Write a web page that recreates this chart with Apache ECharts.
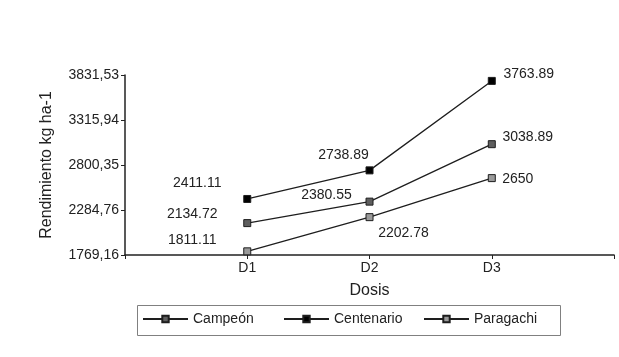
<!DOCTYPE html>
<html>
<head>
<meta charset="utf-8">
<script src="https://cdn.jsdelivr.net/npm/echarts@6/dist/echarts.min.js"></script>
<style>
html,body{margin:0;padding:0;background:#fff;}
#chart{width:619px;height:357px;}
</style>
</head>
<body>
<div id="chart"></div>
<script>
const categories = ['D1', 'D2', 'D3'];
const campeon = [2134.72, 2380.55, 3038.89];
const centenario = [2411.11, 2738.89, 3763.89];
const paragachi = [1811.11, 2202.78, 2650];
const seriesNames = ['Campeón', 'Centenario', 'Paragachi'];
const yTickLabels = ['1769,16', '2284,76', '2800,35', '3315,94', '3831,53'];
const yMin = 1769.16;
const yMax = 3831.53;

// label offsets (style only)
const offsets = {
  'Campeón': [[-55, -9], [-43, -6], [36, -7]],
  'Centenario': [[-50, -16], [-26, -15], [37, -7]],
  'Paragachi': [[-55, -11], [34, 16], [26, 1]]
};
const fills = { 'Campeón': '#5e5e5e', 'Centenario': '#000000', 'Paragachi': '#9a9a9a' };
const legendLefts = [142, 283, 423];

const font = "'Liberation Sans', Arial, sans-serif";
function mk(name, vals) {
  return {
    name: name,
    type: 'line',
    symbol: 'rect',
    symbolSize: 7,
    lineStyle: { color: '#1e1e1e', width: 1.3 },
    itemStyle: { color: fills[name], borderColor: '#1e1e1e', borderWidth: 1 },
    label: { show: true, position: 'inside', color: '#222', fontSize: 14, fontFamily: font },
    emphasis: { disabled: true },
    animation: false,
    data: categories.map((c, i) => ({
      value: [c, vals[i]],
      label: { offset: offsets[name][i], formatter: String(vals[i]) }
    }))
  };
}

const chart = echarts.init(document.getElementById('chart'), null, { renderer: 'canvas' });
chart.setOption({
  backgroundColor: '#fff',
  animation: false,
  grid: { left: 125, right: 1, top: 75, bottom: 102, containLabel: false },
  graphic: [{
    type: 'rect', silent: true,
    shape: { x: 137.5, y: 305.5, width: 423, height: 30 },
    style: { fill: 'none', stroke: '#808080', lineWidth: 1 }
  }],
  legend: seriesNames.map((n, i) => ({
    left: legendLefts[i], top: 305,
    padding: [7, 0, 7, 0],
    itemWidth: 45, itemHeight: 8,
    textStyle: { fontSize: 14, color: '#222', fontFamily: font },
    data: [n]
  })),
  xAxis: {
    type: 'category',
    boundaryGap: false,
    data: [''].concat(categories, [' ']),
    name: 'Dosis', nameLocation: 'middle', nameGap: 28,
    nameTextStyle: { fontSize: 16, color: '#222', fontFamily: font },
    axisLine: { lineStyle: { color: '#222', width: 1.5 } },
    axisTick: { show: true, length: 4, lineStyle: { color: '#222' } },
    axisLabel: { fontSize: 14, color: '#222', fontFamily: font, margin: 6 },
    splitLine: { show: false }
  },
  yAxis: {
    type: 'value',
    min: yMin, max: yMax, interval: (yMax - yMin) / 4,
    name: 'Rendimiento kg ha-1', nameLocation: 'middle', nameGap: 70,
    nameTextStyle: { fontSize: 16, color: '#222', fontFamily: font },
    axisLine: { show: true, lineStyle: { color: '#222', width: 1.5 } },
    axisTick: { show: true, length: 4, lineStyle: { color: '#222' } },
    axisLabel: { fontSize: 14, color: '#222', fontFamily: font, margin: 6,
      formatter: (v, i) => yTickLabels[i] },
    splitLine: { show: false }
  },
  series: [mk('Campeón', campeon), mk('Centenario', centenario), mk('Paragachi', paragachi)]
});
</script>
</body>
</html>
